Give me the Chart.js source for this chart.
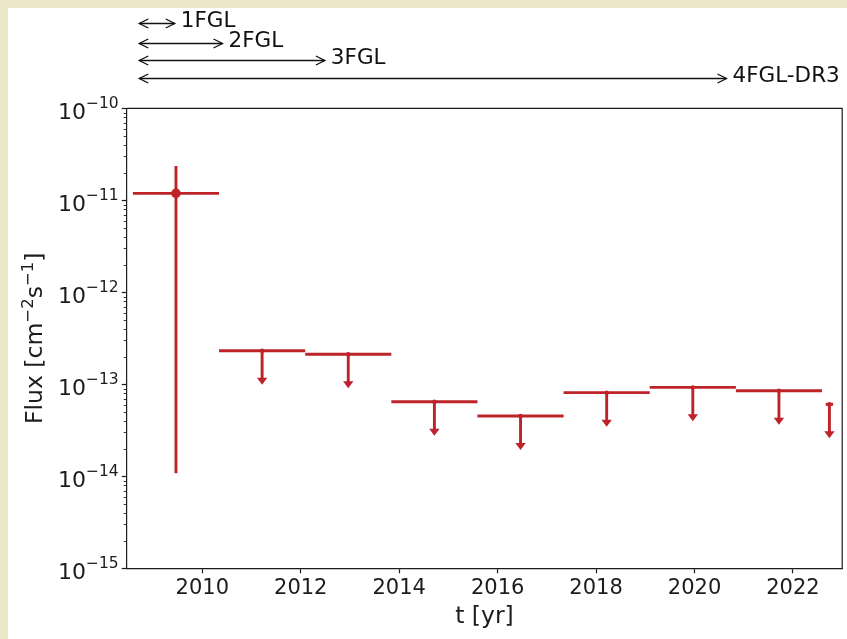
<!DOCTYPE html>
<html>
<head>
<meta charset="utf-8">
<script src="https://cdn.jsdelivr.net/npm/chart.js@4.4.1/dist/chart.umd.min.js"></script>
<style>
  html, body { margin: 0; padding: 0; background: #ebe6c8; }
  #wrap { position: absolute; left: 8px; top: 8px; width: 839px; height: 631px; background: #ffffff; }
  canvas { display: block; }
</style>
</head>
<body>
<div id="wrap"><canvas id="lc" width="839" height="631"></canvas></div>
<script>
// ---- Light-curve data (time in years, flux in cm^-2 s^-1) ----
// Significant detection in the first bin
const detectionTime      = [2009.465];
const detectionHalfWidth = [0.875];
const detectionFlux      = [1.19e-11];
const detectionFluxLow   = [1.08e-14];
const detectionFluxHigh  = [2.36e-11];

// Upper limits for the remaining bins
const limitTimes      = [2011.215, 2012.965, 2014.715, 2016.465, 2018.215, 2019.965, 2021.715, 2022.74];
const limitHalfWidths = [0.875, 0.875, 0.875, 0.875, 0.875, 0.875, 0.875, 0.075];
const limitFluxes     = [2.32e-13, 2.12e-13, 6.47e-14, 4.52e-14, 8.11e-14, 9.27e-14, 8.51e-14, 6.06e-14];

// Fermi-LAT catalogue time spans
const catalogNames = ['1FGL', '2FGL', '3FGL', '4FGL-DR3'];
const catalogStart = 2008.72;
const catalogEnds  = [2009.44, 2010.41, 2012.49, 2020.65];

// Axis ticks
const xTicks   = [2010, 2012, 2014, 2016, 2018, 2020, 2022];
const yDecades = [-15, -14, -13, -12, -11, -10];

// ---- Styling ----
const RED = '#bd2329';
const INK = '#1c1c1c';
const FONT = 'DejaVu Sans';
const ARROW_FACTOR = 0.427;   // upper-limit arrow reaches down to this fraction of the limit
const MINUS = '\u2212';

// Draws a base followed by a raised, smaller exponent
function drawPower(ctx, base, exp, x, y, baseSize, expSize, rise) {
  ctx.font = baseSize + 'px "' + FONT + '"';
  const wb = ctx.measureText(base).width;
  ctx.font = expSize + 'px "' + FONT + '"';
  const we = ctx.measureText(exp).width;
  const start = x - wb - we;
  ctx.font = baseSize + 'px "' + FONT + '"';
  ctx.fillText(base, start, y);
  ctx.font = expSize + 'px "' + FONT + '"';
  ctx.fillText(exp, start + wb, y - rise);
}

// Error bars and upper-limit arrows, drawn beneath the markers
const errorBars = {
  id: 'errorBars',
  beforeDatasetsDraw(chart) {
    const { ctx, scales: { x, y } } = chart;
    ctx.save();
    ctx.strokeStyle = RED;
    ctx.fillStyle = RED;
    ctx.lineWidth = 2.9;
    ctx.lineCap = 'butt';
    const seg = (x1, y1, x2, y2) => { ctx.beginPath(); ctx.moveTo(x1, y1); ctx.lineTo(x2, y2); ctx.stroke(); };

    detectionTime.forEach((t, i) => {
      const px = x.getPixelForValue(t);
      const py = y.getPixelForValue(detectionFlux[i]);
      seg(x.getPixelForValue(t - detectionHalfWidth[i]), py, x.getPixelForValue(t + detectionHalfWidth[i]), py);
      seg(px, y.getPixelForValue(detectionFluxHigh[i]), px, y.getPixelForValue(detectionFluxLow[i]));
    });

    limitTimes.forEach((t, i) => {
      const px = x.getPixelForValue(t);
      const py = y.getPixelForValue(limitFluxes[i]);
      const tip = y.getPixelForValue(limitFluxes[i] * ARROW_FACTOR);
      seg(x.getPixelForValue(t - limitHalfWidths[i]), py, x.getPixelForValue(t + limitHalfWidths[i]), py);
      seg(px, py, px, tip - 5);
      ctx.beginPath();
      ctx.moveTo(px - 5.2, tip - 7);
      ctx.lineTo(px + 5.2, tip - 7);
      ctx.lineTo(px, tip);
      ctx.closePath();
      ctx.fill();
    });
    ctx.restore();
  }
};

// Frame, minor log ticks, y tick labels with exponents and the y-axis title
const frame = {
  id: 'frame',
  afterDraw(chart) {
    const { ctx, chartArea: a, scales: { y } } = chart;
    ctx.save();
    ctx.strokeStyle = INK;
    ctx.lineWidth = 1.2;
    ctx.beginPath();
    ctx.moveTo(a.left, a.top); ctx.lineTo(a.right, a.top); ctx.lineTo(a.right, a.bottom);
    ctx.stroke();
    ctx.lineWidth = 0.9;
    for (let d = yDecades[0]; d < yDecades[yDecades.length - 1]; d++) {
      for (let m = 2; m <= 9; m++) {
        const py = Math.round(y.getPixelForValue(m * Math.pow(10, d))) + 0.5;
        ctx.beginPath(); ctx.moveTo(a.left, py); ctx.lineTo(a.left - 3, py); ctx.stroke();
      }
    }

    ctx.fillStyle = INK;
    ctx.textBaseline = 'alphabetic';
    yDecades.forEach(d => {
      const py = y.getPixelForValue(Math.pow(10, d));
      drawPower(ctx, '10', MINUS + Math.abs(d), a.left - 8, py + 11, 22, 15.5, 11);
    });

    // y-axis title, rotated
    ctx.save();
    ctx.translate(25.5, (a.top + a.bottom) / 2);
    ctx.rotate(-Math.PI / 2);
    const parts = [['Flux [cm', 0], [MINUS + '2', 1], ['s', 0], [MINUS + '1', 1], [']', 0]];
    const fontFor = e => (e ? 16.5 : 23.5) + 'px "' + FONT + '"';
    let total = 0;
    parts.forEach(([s, e]) => { ctx.font = fontFor(e); total += ctx.measureText(s).width; });
    let cx = -total / 2;
    parts.forEach(([s, e]) => {
      ctx.font = fontFor(e);
      ctx.fillText(s, cx, e ? 8.5 - 9.5 : 8.5);
      cx += ctx.measureText(s).width;
    });
    ctx.restore();
    ctx.restore();
  }
};

// Catalogue span arrows above the plot
const catalogs = {
  id: 'catalogs',
  afterDraw(chart) {
    const { ctx, scales: { x } } = chart;
    const rows = [15, 35, 52, 70];
    ctx.save();
    ctx.strokeStyle = '#111';
    ctx.fillStyle = '#111';
    ctx.lineWidth = 1.3;
    ctx.font = '21.5px "' + FONT + '"';
    ctx.textBaseline = 'middle';
    const x0 = x.getPixelForValue(catalogStart);
    catalogNames.forEach((name, i) => {
      const x1 = x.getPixelForValue(catalogEnds[i]);
      const yy = rows[i] + 0.5;
      ctx.beginPath(); ctx.moveTo(x0, yy); ctx.lineTo(x1, yy); ctx.stroke();
      ctx.beginPath();
      ctx.moveTo(x0 + 9, yy - 4.5); ctx.lineTo(x0, yy); ctx.lineTo(x0 + 9, yy + 4.5);
      ctx.moveTo(x1 - 9, yy - 4.5); ctx.lineTo(x1, yy); ctx.lineTo(x1 - 9, yy + 4.5);
      ctx.stroke();
      ctx.fillText(name, x1 + 6, yy - 2);
    });
    ctx.restore();
  }
};

const tickFont = { family: FONT, size: 21 };

new Chart(document.getElementById('lc'), {
  type: 'scatter',
  data: {
    datasets: [
      {
        label: 'detection',
        data: detectionTime.map((t, i) => ({ x: t, y: detectionFlux[i] })),
        pointRadius: 4.8,
        pointBackgroundColor: RED,
        pointBorderColor: RED,
        pointBorderWidth: 0
      },
      {
        label: 'upper limits',
        data: limitTimes.map((t, i) => ({ x: t, y: limitFluxes[i] })),
        pointRadius: 2.2,
        pointBackgroundColor: RED,
        pointBorderColor: RED,
        pointBorderWidth: 0
      }
    ]
  },
  options: {
    responsive: false,
    animation: false,
    layout: { padding: { top: 100.3, right: 1, left: 0, bottom: 0 } },
    plugins: { legend: { display: false }, tooltip: { enabled: false } },
    scales: {
      x: {
        type: 'linear',
        min: 2008.464,
        max: 2023.0,
        afterBuildTicks: s => { s.ticks = xTicks.map(v => ({ value: v })); },
        afterFit: s => { s.height = 70.7; },
        ticks: { font: tickFont, color: INK, padding: 3, maxRotation: 0, autoSkip: false,
                 callback: v => String(v) },
        grid: { drawOnChartArea: false, drawTicks: true, tickLength: 5, tickColor: INK, tickWidth: 1.2 },
        border: { display: true, color: INK, width: 1.2 },
        title: { display: true, text: 't [yr]', font: { family: FONT, size: 23.5 }, color: INK,
                 padding: { top: 0, bottom: 8 } }
      },
      y: {
        type: 'logarithmic',
        min: 1e-15,
        max: 1e-10,
        afterBuildTicks: s => { s.ticks = yDecades.map(d => ({ value: Math.pow(10, d), major: true })); },
        afterFit: s => { s.width = 118.7; },
        ticks: { display: false, autoSkip: false },
        grid: { drawOnChartArea: false, drawTicks: true, tickLength: 5, tickColor: INK, tickWidth: 1.2 },
        border: { display: true, color: INK, width: 1.2 },
        title: { display: false }
      }
    }
  },
  plugins: [errorBars, frame, catalogs]
});
</script>
</body>
</html>
